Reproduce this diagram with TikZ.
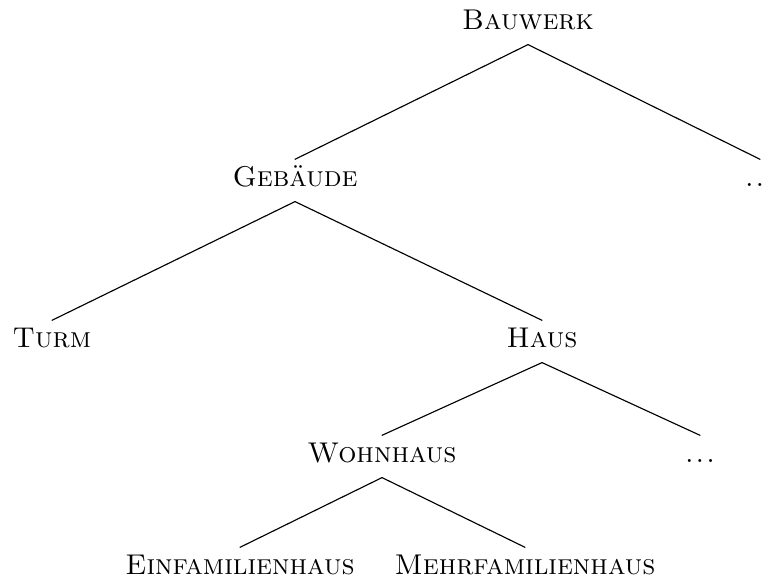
\documentclass[tikz,border=0pt]{standalone}
\begin{document}
\begin{tikzpicture}[x=0.35pt,y=-0.35pt, line join=round, line cap=round,
        every node/.style={font=\scshape, anchor=base, text height=6pt, text depth=2.1pt, inner ysep=3.15pt}]
        \useasboundingbox (0,0) rectangle (765,579);
        % levels
        \node (bauwerk) at (528,29) {Bauwerk};
        \node (gebaeude) at (295,186) {Gebäude};
        \node (rest1) at (760,186) {.\kern.55pt.\kern.55pt.};
        \node (turm) at (52,347) {Turm};
        \node (haus) at (542,347) {Haus};
        \node (wohnhaus) at (382,462) {Wohnhaus};
        \node (rest2) at (700,462) {.\kern.55pt.\kern.55pt.};
        \node (efh) at (240,574) {Einfamilienhaus};
        \node (mfh) at (525,574) {Mehrfamilienhaus};
        % edges
        \draw (bauwerk.south) -- (gebaeude.north);
        \draw (bauwerk.south) -- (rest1.north);
        \draw (gebaeude.south) -- (turm.north);
        \draw (gebaeude.south) -- (haus.north);
        \draw (haus.south) -- (wohnhaus.north);
        \draw (haus.south) -- (rest2.north);
        \draw (wohnhaus.south) -- (efh.north);
        \draw (wohnhaus.south) -- (mfh.north);
    \end{tikzpicture}
\end{document}
